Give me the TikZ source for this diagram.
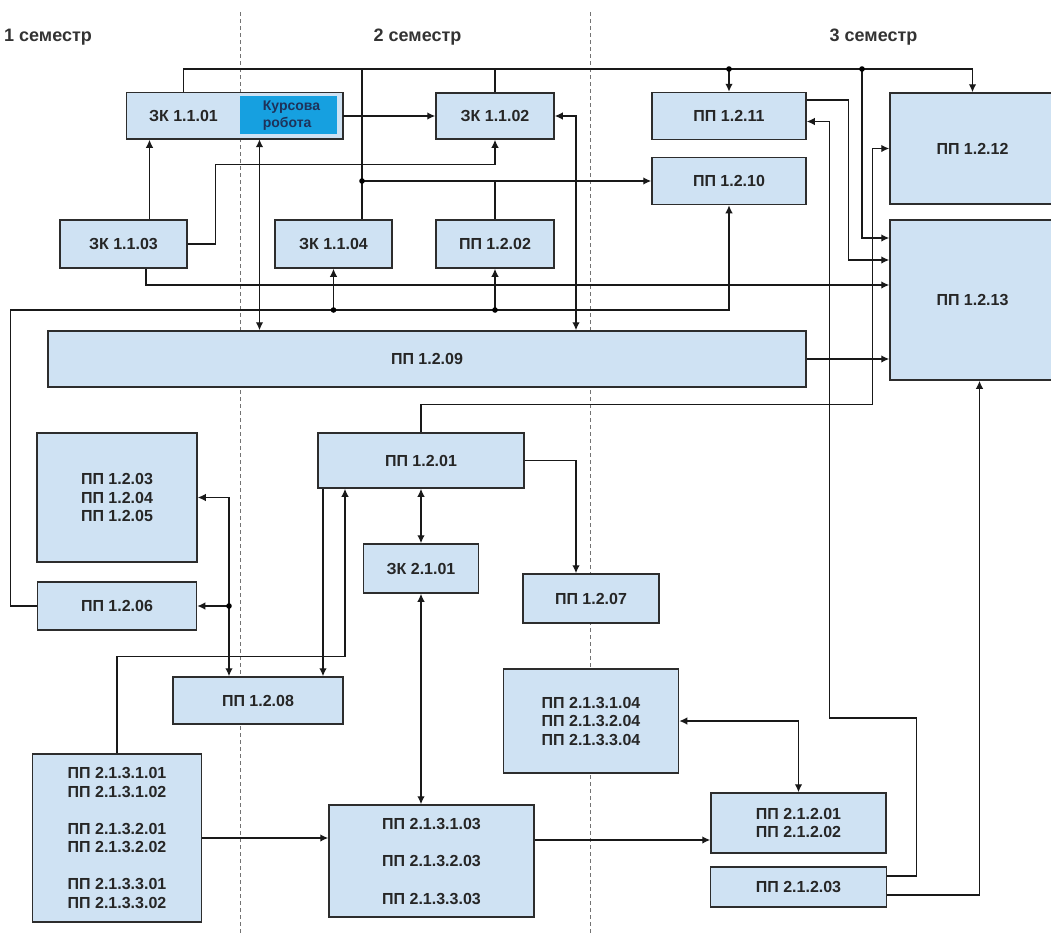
\documentclass[tikz,border=0pt]{standalone}
\usepackage{fontspec}
\setmainfont{Liberation Sans}
\usetikzlibrary{positioning,arrows.meta}
\definecolor{boxfill}{RGB}{207,226,243}
\definecolor{boxline}{RGB}{45,45,45}
\definecolor{kursblue}{RGB}{22,160,224}
\definecolor{kurstext}{RGB}{30,50,90}
\tikzstyle{box}=[draw=boxline, fill=boxfill, line width=1.5pt, inner sep=0pt, align=center, text=black!85, font=\fontsize{16}{18.5}\selectfont\bfseries]
\tikzstyle{kurs}=[fill=boxfill, inner sep=0pt, align=left, text=kurstext, font=\fontsize{14}{17}\selectfont\bfseries, path picture={\fill[kursblue] ([yshift=-3pt]path picture bounding box.north west) rectangle ([xshift=-6pt,yshift=5pt]path picture bounding box.south east);}]
\tikzstyle{sem}=[text=black!80, font=\fontsize{18}{20}\selectfont\bfseries]
\tikzstyle{sep}=[draw=black!55, line width=0.9pt, dash pattern=on 4pt off 3pt]
\tikzstyle{link}=[draw=black!90, line width=1.4pt]
\tikzstyle{arr}=[link, -{Latex[length=8pt,width=7.5pt]}]
\tikzstyle{darr}=[link, {Latex[length=8pt,width=7.5pt]}-{Latex[length=8pt,width=7.5pt]}]

\begin{document}
\begin{tikzpicture}[x=1pt, y=-1pt, node distance=100pt, on grid]
   \useasboundingbox (0,0) rectangle (1051,935);
   \draw[sep] (240,12) -- (240,935);
   \draw[sep] (590,12) -- (590,935);
   \node[sem] (s1) at (48,37) {1 семестр};
   \node[sem] (s2) at (417.5,37) {2 семестр};
   \node[sem] (s3) at (873.5,37) {3 семестр};

   \node[box,draw=none,minimum width=113pt,minimum height=46pt] (zk101) at (183.5,116) {ЗК 1.1.01};
   \node[kurs,minimum width=103pt,minimum height=46pt] (kr) [right=108pt of zk101] {Курсова\\робота};
   \draw[draw=boxline,line width=1.5pt] (zk101.north west) rectangle (kr.south east);
   \node[box,minimum width=118pt,minimum height=46pt] (zk102) [right=311.5pt of zk101] {ЗК 1.1.02};
   \node[box,minimum width=127pt,minimum height=48pt] (zk103) [below left=128pt and 60pt of zk101] {ЗК 1.1.03};
   \node[box,minimum width=117pt,minimum height=48pt] (zk104) [right=210pt of zk103] {ЗК 1.1.04};
   \node[box,minimum width=118pt,minimum height=48pt] (pp202) [below=128pt of zk102] {ПП 1.2.02};
   \node[box,minimum width=154pt,minimum height=47pt] (pp211) [right=234pt of zk102] {ПП 1.2.11};
   \node[box,minimum width=154pt,minimum height=47pt] (pp210) [below=65pt of pp211] {ПП 1.2.10};
   \node[box,minimum width=165pt,minimum height=111pt] (pp212) at (972.5,148.5) {ПП 1.2.12};
   \node[box,minimum width=165pt,minimum height=160pt] (pp213) [below=151.5pt of pp212] {ПП 1.2.13};
   \node[box,minimum width=758pt,minimum height=56pt] (pp209) at (427,359) {ПП 1.2.09};
   \node[box,minimum width=206pt,minimum height=55pt] (pp201) at (421,460.5) {ПП 1.2.01};
   \node[box,minimum width=115pt,minimum height=49pt] (zk201) [below=108pt of pp201] {ЗК 2.1.01};
   \node[box,minimum width=136pt,minimum height=49pt] (pp207) [below right=138pt and 170pt of pp201] {ПП 1.2.07};
   \node[box,minimum width=160pt,minimum height=129pt] (pp203) at (117,497.5) {ПП 1.2.03\\ПП 1.2.04\\ПП 1.2.05};
   \node[box,minimum width=159pt,minimum height=48pt] (pp206) [below=108.5pt of pp203] {ПП 1.2.06};
   \node[box,minimum width=170pt,minimum height=47pt] (pp208) at (258,700.5) {ПП 1.2.08};
   \node[box,minimum width=175pt,minimum height=104pt] (pp2134) [below=122.5pt of pp207] {ПП 2.1.3.1.04\\ПП 2.1.3.2.04\\ПП 2.1.3.3.04};
   \node[box,minimum width=169pt,minimum height=168pt] (pp2131) [below=232pt of pp206] {ПП 2.1.3.1.01\\ПП 2.1.3.1.02\\[18.5pt]ПП 2.1.3.2.01\\ПП 2.1.3.2.02\\[18.5pt]ПП 2.1.3.3.01\\ПП 2.1.3.3.02};
   \node[box,minimum width=205pt,minimum height=112pt] (pp2133) at (431.5,861) {ПП 2.1.3.1.03\\[19pt]ПП 2.1.3.2.03\\[19pt]ПП 2.1.3.3.03};
   \node[box,minimum width=175pt,minimum height=60pt] (pp2121) at (798.5,823) {ПП 2.1.2.01\\ПП 2.1.2.02};
   \node[box,minimum width=176pt,minimum height=40pt] (pp2123) [below=64pt of pp2121] {ПП 2.1.2.03};

   \coordinate (bus1) at (0,69);
   \coordinate (dA) at (729,69);
   \coordinate (dB) at (862,69);
   \coordinate (dC) at (362,181);
   \coordinate (dD) at (333.5,310);
   \coordinate (dE) at (495,310);
   \coordinate (dF) at (229,606);

   \draw[arr] (zk101.north) |- (bus1 -| pp212.north) -- (pp212.north);
   \draw[link] (zk102.north) -- (zk102.north |- bus1);
   \draw[link] (dC |- zk104.north) -- (dC |- bus1);
   \draw[arr] (dA) -- (pp211.north);
   \draw[arr] (dB) |- ([yshift=62pt]pp213.west);
   \draw[arr] (kr.east) -- (zk102.west);
   \draw[arr] ([xshift=26pt]zk103.north) -- ([xshift=26pt]zk103.north |- zk101.south);
   \draw[arr] (zk103.east) -- ++(28,0) |- ([yshift=-25pt]zk102.south) -- (zk102.south);
   \draw[arr] (dC) -- (pp210.west);
   \draw[link] (pp202.north) -- (pp202.north |- dC);
   \draw[arr] ([xshift=22.5pt]zk103.south) |- ([yshift=15pt]pp213.west);
   \draw[arr] (pp206.west) -- ++(-26,0) |- (dD) -| (pp210.south);
   \draw[arr] (dD) -- (zk104.south);
   \draw[arr] (dE) -- (pp202.south);
   \draw[darr] ([xshift=-32pt]kr.south) -- ([xshift=-32pt]kr.south |- pp209.north);
   \draw[darr] (zk102.east) -| ([xshift=149pt]pp209.north);
   \draw[arr] (pp209.east) -- (pp209.east -| pp213.west);
   \draw[arr] (pp201.north) -- ++(0,-28) -| ([xshift=-17pt]pp212.west) -- (pp212.west);
   \draw[arr] ([yshift=16pt]pp211.east) -- ++(42,0) |- ([yshift=40pt]pp213.west);
   \draw[arr] (pp201.east) -| ([xshift=-15pt]pp207.north);
   \draw[darr] (pp201.south) -- (zk201.north);
   \draw[darr] (zk201.south) -- (zk201.south |- pp2133.north);
   \draw[arr] ([xshift=-98pt]pp201.south) -- ([xshift=-98pt]pp201.south |- pp208.north);
   \draw[arr] (pp2131.north) -- ++(0,-97) -| ([xshift=-76pt]pp201.south);
   \draw[darr] ([xshift=-29pt]pp208.north) |- (pp203.east);
   \draw[arr] (dF) -- (pp206.east);
   \draw[arr] (pp2131.east) -- (pp2131.east -| pp2133.west);
   \draw[arr] ([yshift=21pt]pp2133.east) -- ([yshift=21pt]pp2133.east -| pp2121.west);
   \draw[darr] (pp2134.east) -| (pp2121.north);
   \draw[arr] ([yshift=11pt]pp2123.east) -- ++(29,0) -- ++(0,-158) -| ([xshift=23pt,yshift=-5.5pt]pp211.east) -- ([yshift=-5.5pt]pp211.east);
   \draw[arr] ([yshift=-8pt]pp2123.east) -| ([xshift=7pt]pp213.south);

   \foreach \d in {dA,dB,dC,dD,dE,dF} \fill (\d) circle (2.8pt);
\end{tikzpicture}
\end{document}
